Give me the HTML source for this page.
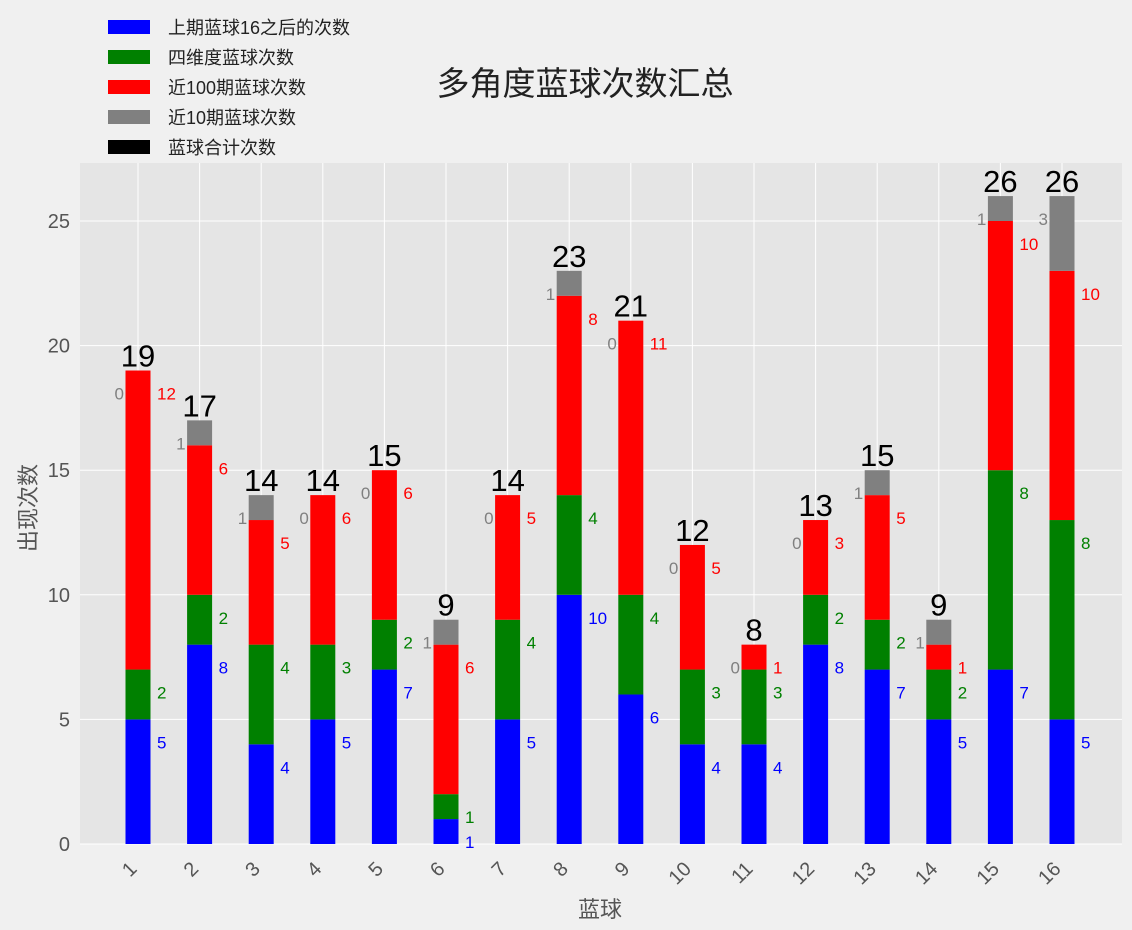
<!DOCTYPE html>
<html><head><meta charset="utf-8"><style>
body{margin:0;background:#f0f0f0;}
svg{display:block;font-family:"Liberation Sans","Noto Sans CJK SC",sans-serif;}
</style></head><body>
<svg id="chart" width="1132" height="930" xmlns="http://www.w3.org/2000/svg">
<rect x="0" y="0" width="1132" height="930" fill="#f0f0f0"/>
<rect x="80" y="163" width="1042" height="681" fill="#e5e5e5"/>
<g id="grid"></g>
<g id="bars"></g>
<g id="labels"></g>
<g id="axes"></g>
<text x="585" y="95" font-size="33" text-anchor="middle" fill="#222">多角度蓝球次数汇总</text>
<text x="600" y="917" font-size="22" text-anchor="middle" fill="#555">蓝球</text>
<text transform="translate(36,508) rotate(-90)" font-size="22" text-anchor="middle" fill="#555">出现次数</text>
<g id="legend"></g>
</svg>
<script>
const categories = ["1","2","3","4","5","6","7","8","9","10","11","12","13","14","15","16"];
const blueAfter16 = [5,8,4,5,7,1,5,10,6,4,4,8,7,5,7,5];
const fourDim = [2,2,4,3,2,1,4,4,4,3,3,2,2,2,8,8];
const last100 = [12,6,5,6,6,6,5,8,11,5,1,3,5,1,10,10];
const last10 = [0,1,1,0,0,1,0,1,0,0,0,0,1,1,1,3];
const yTicks = [0,5,10,15,20,25];
const seriesNames = ["上期蓝球16之后的次数","四维度蓝球次数","近100期蓝球次数","近10期蓝球次数","蓝球合计次数"];

const NS="http://www.w3.org/2000/svg";
const y0=844, pxPerUnit=24.92, x0=138, step=61.6, bw=25;
const yS=v=>y0-v*pxPerUnit;
const xS=i=>x0+i*step;
function mk(tag,attrs,parent,text){const e=document.createElementNS(NS,tag);for(const k in attrs)e.setAttribute(k,attrs[k]);if(text!==undefined)e.textContent=text;document.getElementById(parent).appendChild(e);return e;}

yTicks.forEach(t=>{
  const l=mk('line',{x1:80,x2:1122,y1:yS(t),y2:yS(t),stroke:'#fff','stroke-width':1},'grid');
  
  
  const tx=mk('text',{x:70,y:yS(t)+7,'font-size':20,'text-anchor':'end',fill:'#555'},'axes',String(t));
  
  
});
categories.forEach((c,i)=>{
  const l=mk('line',{x1:xS(i),x2:xS(i),y1:163,y2:844,stroke:'#fff','stroke-width':1},'grid');
  
  
  const x=xS(i), y=870;
  const tx=mk('text',{x:x,y:y,'font-size':20,'text-anchor':'end',fill:'#555',transform:`rotate(-45 ${x} ${y})`},'axes',c);
  
  
});

const series=[[blueAfter16,'blue','right'],[fourDim,'green','right'],[last100,'red','right'],[last10,'gray','left']];
categories.forEach((c,i)=>{
  let base=0;
  series.forEach(([arr,col,side],si)=>{
    const v=arr[i];
    if(v>0){
      const r=mk('rect',{x:xS(i)-bw/2,y:yS(base+v),width:bw,height:v*pxPerUnit,fill:col},'bars');
      
      
    }
    const top=yS(base+v);
    const lx=side==='right'?xS(i)+19:xS(i)-14;
    const t=mk('text',{x:lx,y:top+29,'font-size':17,fill:col,'text-anchor':side==='right'?'start':'end'},'labels',String(v));
    
    
    base+=v;
  });
  const tt=mk('text',{x:xS(i),y:yS(base)-4,'font-size':31,fill:'#000','text-anchor':'middle'},'labels',String(base));
  
  
});

const legCols=['blue','green','red','gray','black'];
seriesNames.forEach((n,i)=>{
  const y=27+i*30;
  const r=mk('rect',{x:108,y:y-7,width:42,height:14,fill:legCols[i]},'legend');
  
  
  const t=mk('text',{x:168,y:y+7,'font-size':18,fill:'#222'},'legend',n);
  
  
});
</script>
</body></html>
